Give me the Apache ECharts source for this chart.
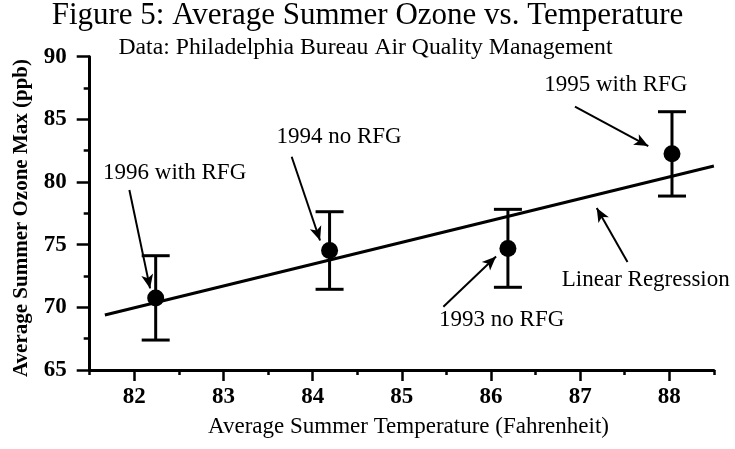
<!DOCTYPE html>
<html><head><meta charset="utf-8">
<script src="https://cdn.jsdelivr.net/npm/echarts@6/dist/echarts.min.js"></script>
<style>html,body{margin:0;padding:0;background:#fff}#c{width:735px;height:449px}</style>
</head><body><div id="c"></div>
<script>
// ---- data ----
var years = ['1996', '1994', '1993', '1995'];
var temps = [82.24, 84.19, 86.19, 88.03];
var ozone = [70.75, 74.53, 74.70, 82.25];
var errLow = [67.39, 71.44, 71.60, 78.88];
var errHigh = [74.12, 77.63, 77.82, 85.61];
var regressionX = [81.67, 88.5];
var regressionY = [69.39, 81.28];
var xMajorTicks = [82, 83, 84, 85, 86, 87, 88];
var yMajorTicks = [65, 70, 75, 80, 85, 90];
var noteTexts = ['1996 with RFG', '1994 no RFG', '1993 no RFG', '1995 with RFG', 'Linear Regression'];
var noteX = [82.453, 84.296, 86.12, 87.40, 87.736];
var noteY = [80.72, 83.59, 68.99, 87.74, 72.18];
var arrowFromX = [81.945, 83.765, 85.466, 86.942, 87.531];
var arrowFromY = [79.36, 82.02, 70.05, 86.01, 73.62];
var arrowToX = [82.177, 84.083, 86.057, 87.764, 87.186];
var arrowToY = [71.51, 75.33, 74.05, 82.87, 77.93];

var FONT = "'Liberation Serif', 'Times New Roman', serif";
var chart = echarts.init(document.getElementById('c'), null, {renderer: 'canvas'});

var pts = temps.map(function (t, i) { return [t, ozone[i]]; });
var bars = temps.map(function (t, i) { return [t, errLow[i], errHigh[i]]; });
var reg = regressionX.map(function (x, i) { return [x, regressionY[i]]; });
var notes = noteTexts.map(function (s, i) { return [noteX[i], noteY[i], s]; });
var arrows = arrowFromX.map(function (x, i) {
  return [{coord: [x, arrowFromY[i]]}, {coord: [arrowToX[i], arrowToY[i]]}];
});

var axisCommon = {
  type: 'value', min: 81.5, max: 88.5, splitLine: {show: false}
};

var option = {
  backgroundColor: '#fff',
  animation: false,
  grid: {left: 89.7, right: 21.1, top: 56.7, bottom: 79},
  xAxis: [
    Object.assign({}, axisCommon, {
      position: 'bottom', interval: 0.5,
      axisLine: {show: true, onZero: false, lineStyle: {color: '#000', width: 3}},
      axisTick: {show: true, length: 5, lineStyle: {color: '#000', width: 2.5}},
      axisLabel: {show: true, customValues: xMajorTicks, margin: 16, color: '#000',
        fontFamily: FONT, fontSize: 23, fontWeight: 'bold'}
    }),
    Object.assign({}, axisCommon, {
      position: 'bottom',
      axisLine: {show: false, onZero: false},
      axisTick: {show: true, customValues: xMajorTicks, length: 11, lineStyle: {color: '#000', width: 2.5}},
      axisLabel: {show: false}
    })
  ],
  yAxis: [
    {
      type: 'value', min: 65, max: 90, interval: 2.5, position: 'left', splitLine: {show: false},
      axisLine: {show: true, onZero: false, lineStyle: {color: '#000', width: 3}},
      axisTick: {show: true, length: 6, lineStyle: {color: '#000', width: 2.5}},
      axisLabel: {show: true, customValues: yMajorTicks, margin: 23, color: '#000',
        fontFamily: FONT, fontSize: 23, fontWeight: 'bold'}
    },
    {
      type: 'value', min: 65, max: 90, interval: 5, position: 'left', splitLine: {show: false},
      axisLine: {show: false, onZero: false},
      axisTick: {show: true, length: 13, lineStyle: {color: '#000', width: 2.5}},
      axisLabel: {show: false}
    }
  ],
  graphic: [
    {type: 'text', x: 367.5, y: 16, silent: true,
      style: {text: 'Figure 5: Average Summer Ozone vs. Temperature', fill: '#000',
        font: "31px 'Liberation Serif'", textAlign: 'center', textVerticalAlign: 'middle'}},
    {type: 'text', x: 365.5, y: 48, silent: true,
      style: {text: 'Data: Philadelphia Bureau Air Quality Management', fill: '#000',
        font: "23.7px 'Liberation Serif'", textAlign: 'center', textVerticalAlign: 'middle'}},
    {type: 'text', x: 408.5, y: 427, silent: true,
      style: {text: 'Average Summer Temperature (Fahrenheit)', fill: '#000',
        font: "23px 'Liberation Serif'", textAlign: 'center', textVerticalAlign: 'middle'}},
    {type: 'text', x: 22, y: 218, rotation: Math.PI / 2, silent: true,
      style: {text: 'Average Summer Ozone Max (ppb)', fill: '#000',
        font: "bold 21px 'Liberation Serif'", textAlign: 'center', textVerticalAlign: 'middle'}}
  ],
  series: [
    {
      name: 'Linear Regression', type: 'line', data: reg, showSymbol: false, symbol: 'none',
      lineStyle: {color: '#000', width: 3}, silent: true, z: 2
    },
    {
      name: 'Error bars', type: 'custom', data: bars, silent: true, z: 3,
      renderItem: function (params, api) {
        var x = api.value(0);
        var lo = api.coord([x, api.value(1)]);
        var hi = api.coord([x, api.value(2)]);
        var hw = 14;
        var st = {stroke: '#000', lineWidth: 3};
        return {type: 'group', children: [
          {type: 'line', shape: {x1: lo[0], y1: lo[1], x2: hi[0], y2: hi[1]}, style: st},
          {type: 'line', shape: {x1: lo[0] - hw, y1: lo[1], x2: lo[0] + hw, y2: lo[1]}, style: st},
          {type: 'line', shape: {x1: hi[0] - hw, y1: hi[1], x2: hi[0] + hw, y2: hi[1]}, style: st}
        ]};
      }
    },
    {
      name: 'Ozone', type: 'scatter', data: pts, symbol: 'circle', symbolSize: 17,
      itemStyle: {color: '#000', opacity: 1}, silent: true, z: 4
    },
    {
      name: 'Notes', type: 'scatter', data: notes, symbolSize: 0, silent: true, z: 5,
      itemStyle: {color: '#000', opacity: 1},
      label: {show: true, position: 'inside', color: '#000', opacity: 1, fontFamily: FONT, fontSize: 23,
        formatter: function (p) { return p.data[2]; }},
      markLine: {
        silent: true, symbol: ['none', 'arrow'], symbolSize: [9, 14],
        label: {show: false},
        lineStyle: {color: '#000', width: 2, type: 'solid', opacity: 1},
        emphasis: {disabled: true},
        data: arrows
      }
    }
  ]
};
chart.setOption(option);
</script>
</body></html>
